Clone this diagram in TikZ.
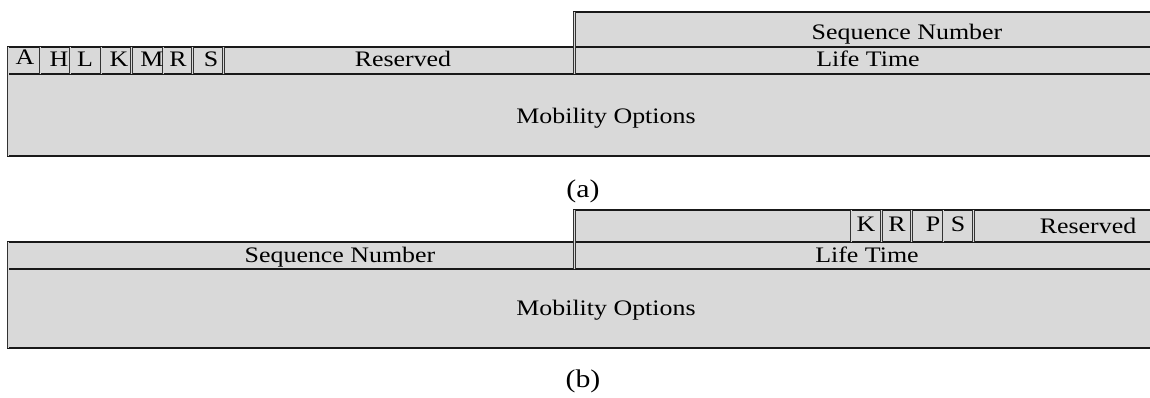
\documentclass[tikz,border=0pt]{standalone}
\usepackage{fontspec}
\setmainfont{Liberation Serif}[FakeStretch=1.17]
\begin{document}
\begin{tikzpicture}[x=0.02cm,y=-0.02cm,
    field/.style={fill=black!15,draw=black!90,line width=0.8pt},
    sep/.style={draw=black!80,line width=0.5pt,double=black!15,double distance=0.55pt},
    txt/.style={anchor=base,inner sep=0pt,font=\fontsize{12.6}{15}\selectfont},
    captxt/.style={anchor=base,inner sep=0pt,font=\fontsize{14.5}{17}\selectfont}]
\useasboundingbox (0,0) rectangle (1150,397);
% (a) Felder
\filldraw[field] (574,12) rectangle (1160,47);
\filldraw[field] (8,47) rectangle (1160,74);
\filldraw[field] (8,74) rectangle (1160,156);
% (a) Trennlinien
\draw[sep] (8,47) -- (8,156);
\draw[sep] (40,47) -- (40,74);
\draw[sep] (70,47) -- (70,74);
\draw[sep] (101,47) -- (101,74);
\draw[sep] (131.5,47) -- (131.5,74);
\draw[sep] (163,47) -- (163,74);
\draw[sep] (192.5,47) -- (192.5,74);
\draw[sep] (223.5,47) -- (223.5,74);
\draw[sep] (574.5,12) -- (574.5,74);
% (a) Texte
\node[txt] (seqa) at (907,39) {Sequence Number};
\node[txt] (flaga) at (25,64) {A};
\node[txt] (flagh) at (59,66) {H};
\node[txt] (flagl) at (85,66) {L};
\node[txt] (flagk) at (119,66) {K};
\node[txt] (flagm) at (152,66) {M};
\node[txt] (flagr) at (178,66) {R};
\node[txt] (flags) at (211,66) {S};
\node[txt] (resa) at (403,66) {Reserved};
\node[txt] (lifea) at (868,66) {Life Time};
\node[txt] (moba) at (606,123) {Mobility Options};
\node[captxt] (capa) at (583,197) {(a)};
% (b) Felder
\filldraw[field] (574,210) rectangle (1160,242);
\filldraw[field] (8,242) rectangle (1160,269);
\filldraw[field] (8,269) rectangle (1160,348);
% (b) Trennlinien
\draw[sep] (8,242) -- (8,348);
\draw[sep] (574.5,210) -- (574.5,269);
\draw[sep] (851,210) -- (851,242);
\draw[sep] (881.5,210) -- (881.5,242);
\draw[sep] (911.5,210) -- (911.5,242);
\draw[sep] (943,210) -- (943,242);
\draw[sep] (973.5,210) -- (973.5,242);
% (b) Texte
\node[txt] (flagbk) at (866,231) {K};
\node[txt] (flagbr) at (897,231) {R};
\node[txt] (flagbp) at (933,231) {P};
\node[txt] (flagbs) at (958,231) {S};
\node[txt] (resb) at (1088,233) {Reserved};
\node[txt] (seqb) at (340,262) {Sequence Number};
\node[txt] (lifeb) at (867,262) {Life Time};
\node[txt] (mobb) at (606,315) {Mobility Options};
\node[captxt] (capb) at (583,387) {(b)};
\end{tikzpicture}
\end{document}
